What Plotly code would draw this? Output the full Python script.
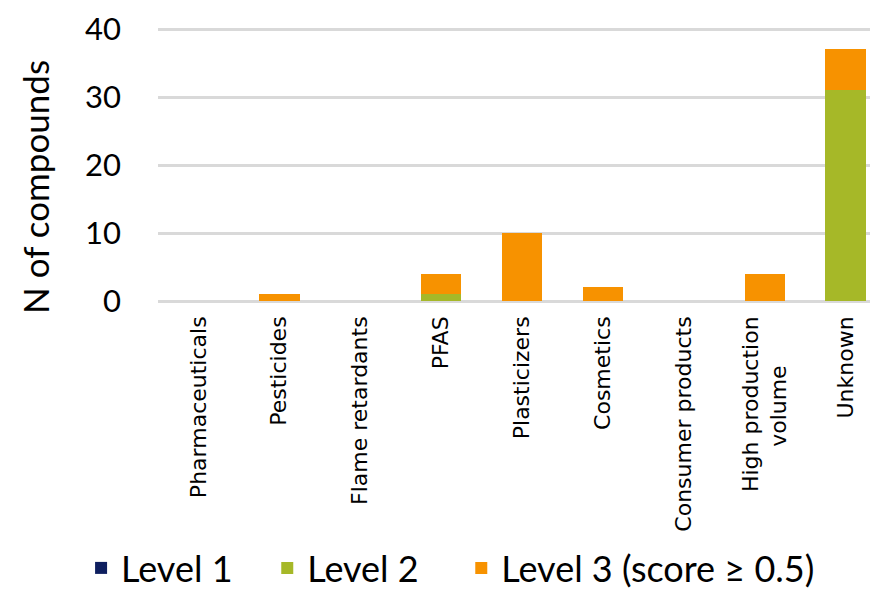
import plotly.graph_objects as go

categories = ['Pharmaceuticals', 'Pesticides', 'Flame retardants', 'PFAS', 'Plasticizers',
              'Cosmetics', 'Consumer products',
              'High production<br>volume' + '\u00a0' * 7, 'Unknown']
level1 = [0, 0, 0, 0, 0, 0, 0, 0, 0]
level2 = [0, 0, 0, 1, 0, 0, 0, 0, 31]
level3 = [0, 1, 0, 3, 10, 2, 0, 4, 6]

series = [
    ('Level 1', level1, '#0E1F5F', 'legend'),
    ('Level 2', level2, '#A6B828', 'legend2'),
    ('Level 3 (score \u2265 0.5)', level3, '#F79200', 'legend3'),
]

fig = go.Figure()
for name, vals, color, leg in series:
    fig.add_trace(go.Bar(x=categories, y=vals, name=name, marker_color=color,
                         marker_line_width=0, legend=leg, showlegend=True))

# one legend per entry so the spacing can be set like the original
leg_style = dict(orientation='h', xref='container', yref='container', xanchor='left',
                 y=0.0, yanchor='bottom', font=dict(size=36), itemwidth=30,
                 bgcolor='rgba(0,0,0,0)')

# page body has an 8px margin, so the figure is a bit smaller than the window
fig.update_layout(
    barmode='stack',
    bargap=0.5,
    width=870, height=590,
    margin=dict(l=150, r=0, t=20, b=297, autoexpand=False),
    plot_bgcolor='white', paper_bgcolor='white',
    font=dict(family='Lato', color='black'),
    showlegend=True,
    legend=dict(leg_style, x=0.084),
    legend2=dict(leg_style, x=0.298),
    legend3=dict(leg_style, x=0.521),
    annotations=[dict(
        text='N of compounds', textangle=-90, showarrow=False,
        xref='paper', x=0, xanchor='center', xshift=-123,
        yref='paper', y=0.418, yanchor='middle', font=dict(size=35),
    )],
)
fig.update_xaxes(
    range=[-0.5, 8.4], tickangle=-90, tickfont=dict(family='DejaVu Sans', size=22),
    showline=False, showgrid=False, ticks='', ticklabelstandoff=10, automargin=False,
)
fig.update_yaxes(
    range=[0, 40.15], tickvals=[0, 10, 20, 30, 40], showgrid=True,
    gridcolor='#D9D9D9', gridwidth=2.5,
    zeroline=True, zerolinecolor='#D9D9D9', zerolinewidth=3, automargin=False,
    tickfont=dict(size=31), ticklabelstandoff=36, ticklabeloverflow='allow',
)

fig.write_html('out.html')
